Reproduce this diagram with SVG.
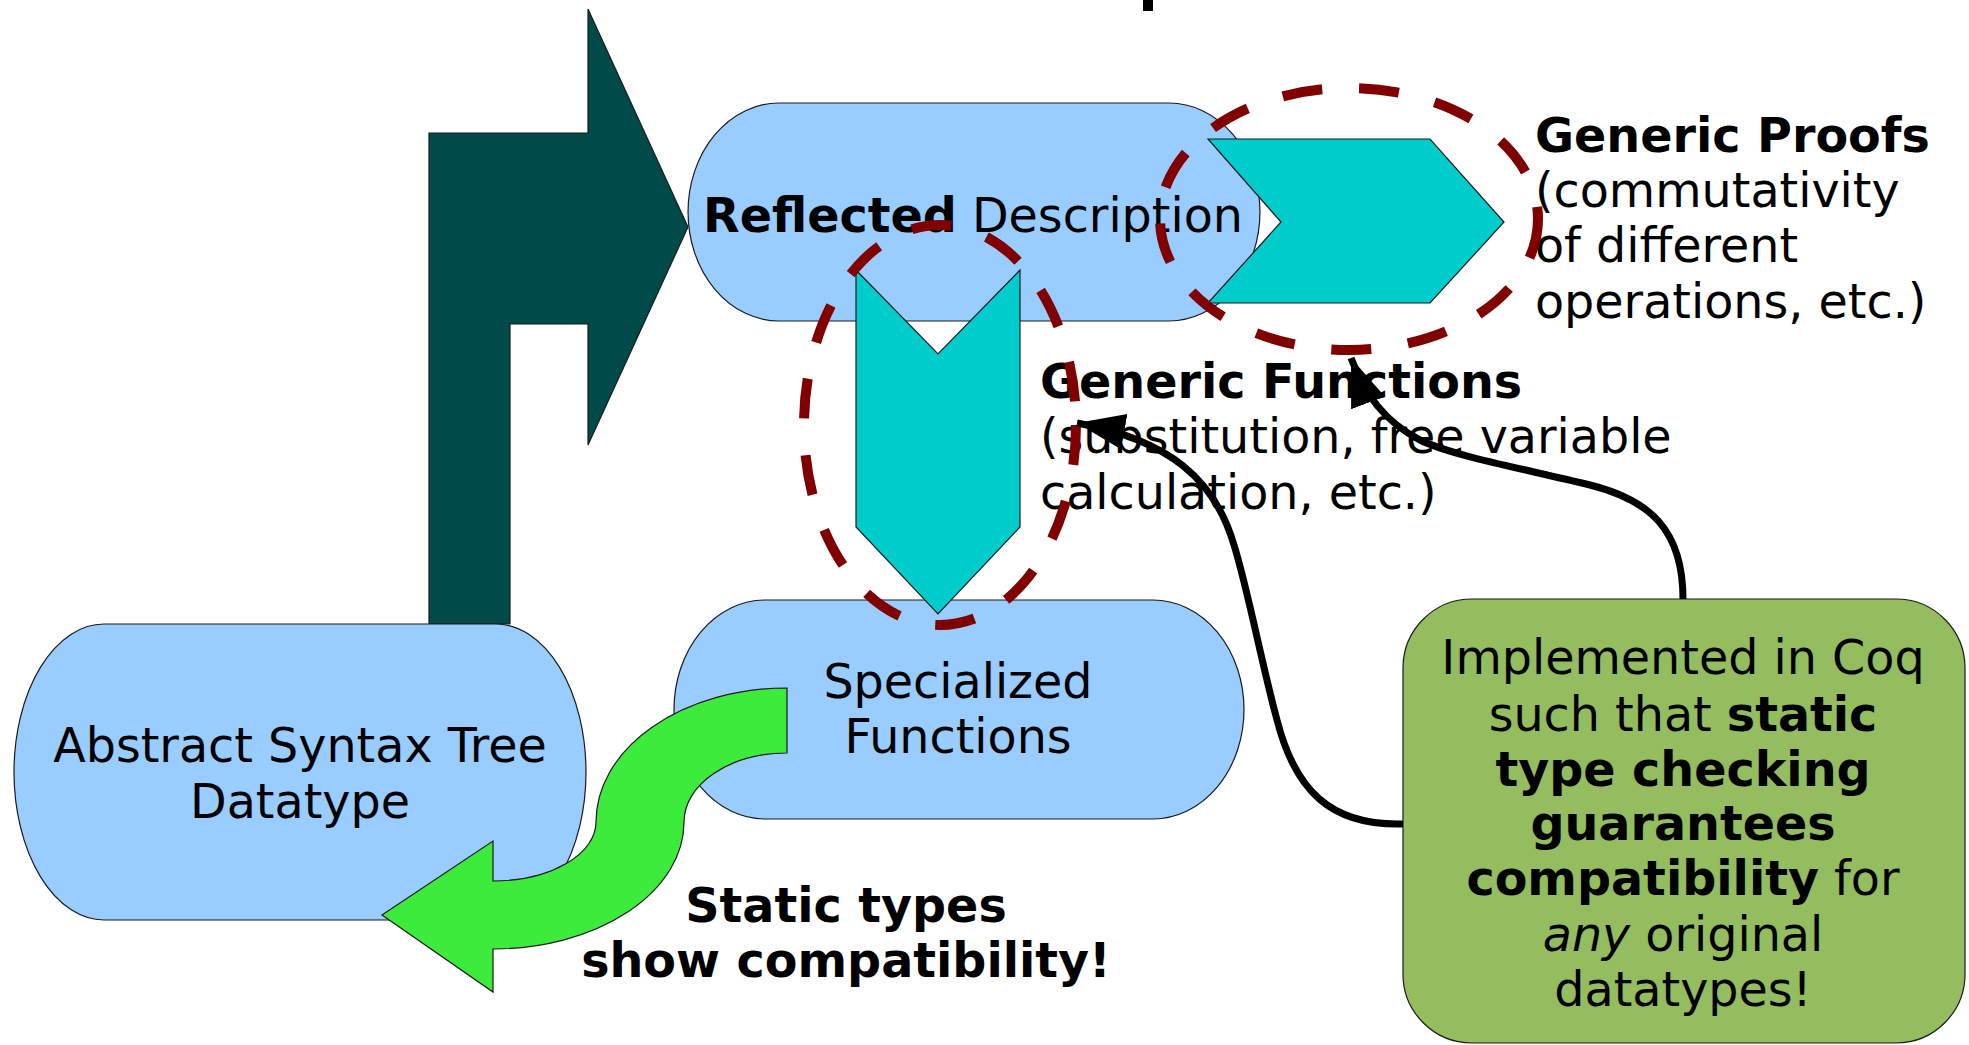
<svg xmlns="http://www.w3.org/2000/svg" width="1969" height="1045" viewBox="0 0 1969 1045">
  <style>
    text { font-family: "DejaVu Sans", "Liberation Sans", sans-serif; font-size: 47.6px; fill: #000; }
    .b { font-weight: bold; }
    .i { font-style: italic; }
    .mid { text-anchor: middle; }
    .pill { fill: #99ccff; stroke: #1a1a1a; stroke-width: 1.2; }
    .chev { fill: #00cccc; stroke: #1a1a1a; stroke-width: 1.2; }
    .ring { fill: none; stroke: #800000; stroke-width: 10; stroke-dasharray: 40 37; }
    .conn { fill: none; stroke: #000; stroke-width: 7; }
  </style>
  <defs>
    <marker id="head" markerUnits="userSpaceOnUse" markerWidth="52" markerHeight="40" refX="48" refY="18" orient="auto" viewBox="0 0 52 36">
      <path d="M0 0 L48 18 L0 36 Z" fill="#000"/>
    </marker>
  </defs>

  <rect width="1969" height="1045" fill="#fff"/>

  <!-- descender of the heading running off the top edge -->
  <rect x="1143" y="0" width="10" height="11" fill="#000"/>

  <!-- big bent arrow from the syntax tree up to the reflected description -->
  <g id="lift-arrow">
    <path d="M429 624 L429 133 L588 133 L588 9 L688 227 L588 445 L588 324 L510 324 L510 624 Z" fill="#004a4a" stroke="#1a1a1a" stroke-width="1.2"/>
  </g>

  <g id="ast">
    <path class="pill" d="M104 624 H496 A90 148 0 0 1 496 920 H104 A90 148 0 0 1 104 624 Z"/>
    <text class="mid" x="300" y="762">Abstract Syntax Tree</text>
    <text class="mid" x="300" y="818">Datatype</text>
  </g>

  <g id="reflected">
    <path class="pill" d="M779 103 H1169 A91 109 0 0 1 1169 321 H779 A91 109 0 0 1 779 103 Z"/>
    <text class="mid" x="973" y="232"><tspan class="b">Reflected</tspan> Description</text>
  </g>

  <g id="specialized">
    <path class="pill" d="M765 600 H1153 A91 109.5 0 0 1 1153 819 H765 A91 109.5 0 0 1 765 600 Z"/>
    <text class="mid" x="958" y="698">Specialized</text>
    <text class="mid" x="958" y="753">Functions</text>
  </g>

  <!-- S-shaped arrow back to the syntax tree -->
  <g id="return-arrow">
    <path d="M787 688 A191 134 0 0 0 596 822 A103 59 0 0 1 493 881 L493 841 L382 915 L493 992 L493 949 A191 127 0 0 0 684 822 A103 69 0 0 1 787 753 Z" fill="#3deb3d" stroke="#1a1a1a" stroke-width="1.2"/>
  </g>

  <g id="generic-functions">
    <path class="chev" d="M856 270 L938 354 L1020 270 L1020 527 L938 614 L856 527 Z"/>
    <text class="b" x="1040" y="398">Generic Functions</text>
    <text x="1040" y="453">(substitution, free variable</text>
    <text x="1040" y="509">calculation, etc.)</text>
  </g>

  <g id="generic-proofs">
    <path class="chev" d="M1208 139 L1430 139 L1504 222 L1430 303 L1208 303 L1281 222 Z"/>
    <text class="b" x="1535" y="152">Generic Proofs</text>
    <text x="1535" y="207">(commutativity</text>
    <text x="1535" y="262">of different</text>
    <text x="1535" y="318">operations, etc.)</text>
  </g>

  <g id="highlights">
    <ellipse class="ring" cx="940" cy="425" rx="136" ry="200"/>
    <ellipse class="ring" cx="1349" cy="219" rx="189" ry="131"/>
  </g>

  <g id="static-types">
    <text class="b mid" x="846" y="922">Static types</text>
    <text class="b mid" x="846" y="977">show compatibility!</text>
  </g>

  <g id="coq-note">
    <rect x="1403" y="599" width="562" height="444" rx="69" ry="69" fill="#93bd5f" stroke="#1a1a1a" stroke-width="1.2"/>
    <text class="mid" x="1683" y="674">Implemented in Coq</text>
    <text class="mid" x="1683" y="731">such that <tspan class="b">static</tspan></text>
    <text class="mid b" x="1683" y="786">type checking</text>
    <text class="mid b" x="1683" y="840">guarantees</text>
    <text class="mid" x="1683" y="895"><tspan class="b">compatibility</tspan> for</text>
    <text class="mid" x="1683" y="951"><tspan class="i">any</tspan> original</text>
    <text class="mid" x="1683" y="1006">datatypes!</text>
  </g>

  <g id="connectors">
    <path class="conn" marker-end="url(#head)" d="M1403 824 C1330 826 1295 790 1277 720 C1262 665 1248 590 1234 545 C1215 480 1170 440 1077 423"/>
    <path class="conn" marker-end="url(#head)" d="M1683 599 C1683 530 1650 500 1590 485 C1520 468 1450 455 1420 440 C1385 422 1365 395 1351 358"/>
  </g>
</svg>
